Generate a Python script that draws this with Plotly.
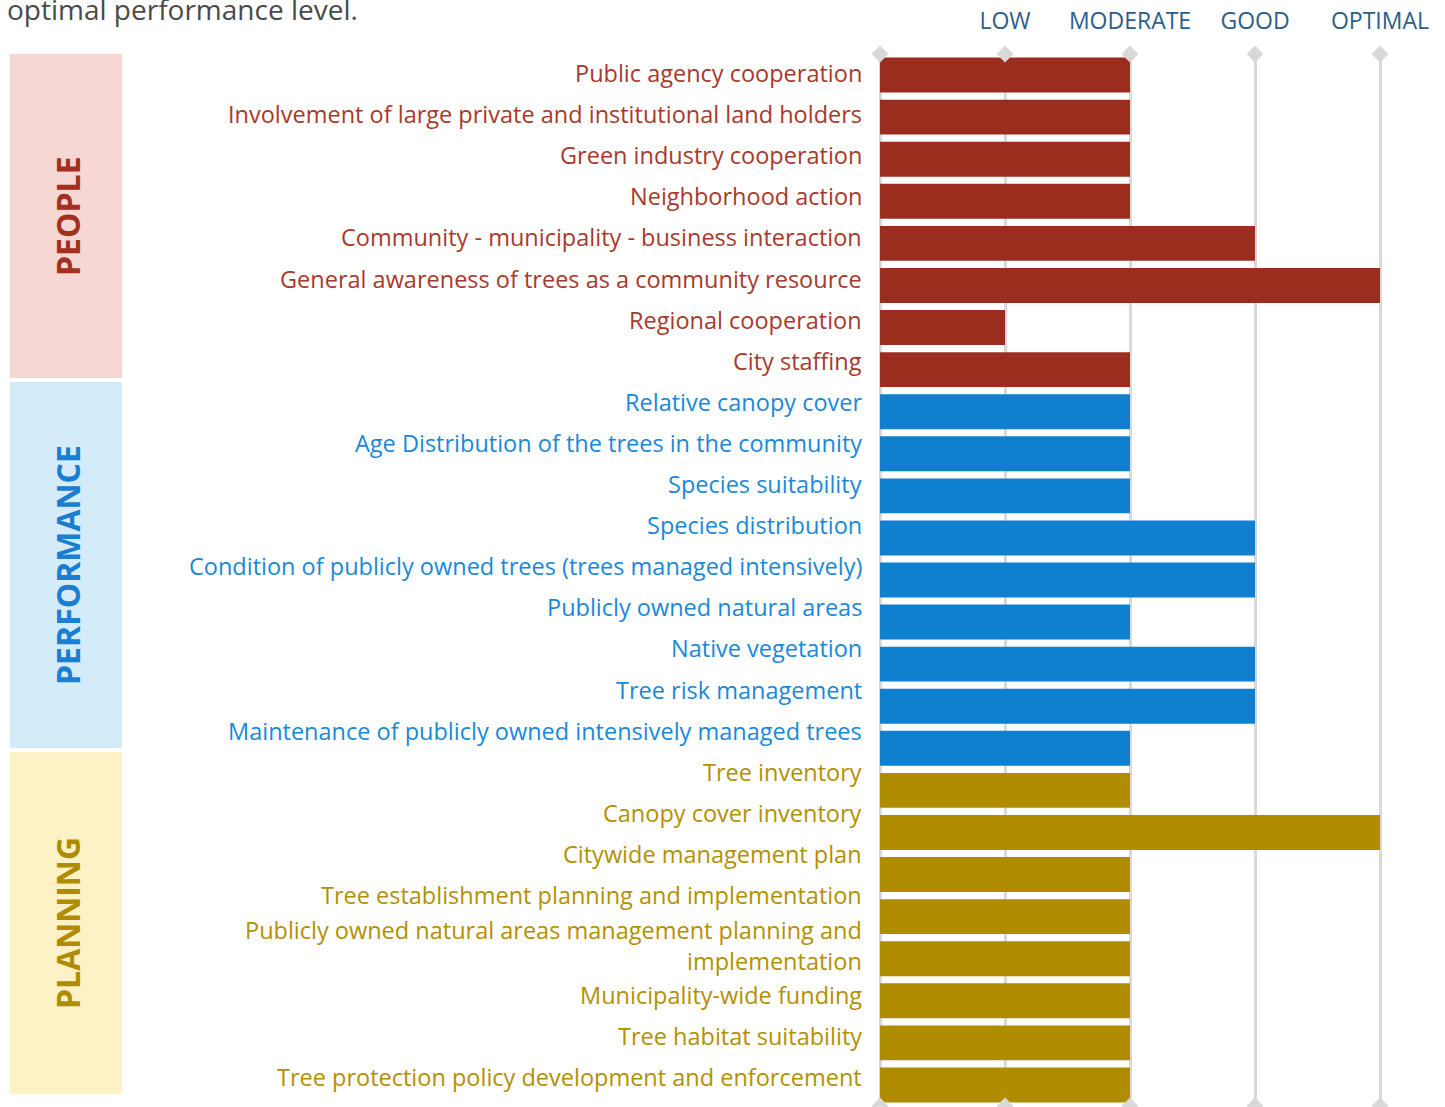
import plotly.graph_objects as go

# ---------------- data ----------------
people = ["Public agency cooperation",
          "Involvement of large private and institutional land holders",
          "Green industry cooperation",
          "Neighborhood action",
          "Community - municipality - business interaction",
          "General awareness of trees as a community resource",
          "Regional cooperation",
          "City staffing"]
people_vals = [2, 2, 2, 2, 3, 4, 1, 2]

performance = ["Relative canopy cover",
               "Age Distribution of the trees in the community",
               "Species suitability",
               "Species distribution",
               "Condition of publicly owned trees (trees managed intensively)",
               "Publicly owned natural areas",
               "Native vegetation",
               "Tree risk management",
               "Maintenance of publicly owned intensively managed trees"]
performance_vals = [2, 2, 2, 3, 3, 2, 3, 3, 2]

planning = ["Tree inventory",
            "Canopy cover inventory",
            "Citywide management plan",
            "Tree establishment planning and implementation",
            "Publicly owned natural areas management planning and<br>implementation",
            "Municipality-wide funding",
            "Tree habitat suitability",
            "Tree protection policy development and enforcement"]
planning_vals = [2, 4, 2, 2, 2, 2, 2, 2]

levels = [0, 1, 2, 3, 4]
level_labels = ["", "LOW", "MODERATE", "GOOD", "OPTIMAL"]

groups = ["PEOPLE", "PERFORMANCE", "PLANNING"]
intro_text = "optimal performance level."

# ---------------- styles ----------------
bar_colors = {"PEOPLE": "#9b2d1f", "PERFORMANCE": "#0f80d0", "PLANNING": "#b08c00"}
text_colors = {"PEOPLE": "#a8392b", "PERFORMANCE": "#1a88d8", "PLANNING": "#b39000"}
band_colors = {"PEOPLE": "#f7d7d3", "PERFORMANCE": "#d4ebfa", "PLANNING": "#fdf2c6"}
group_label_colors = {"PEOPLE": "#a3301f", "PERFORMANCE": "#1a7fd0", "PLANNING": "#b08d00"}
FONT = "Open Sans"

W, H = 1445, 1107
ML, MR, MT, MB = 878, 63, 54, 1
PW = W - ML - MR
PH = H - MT - MB


def px_x(p):
    return (p - ML) / PW


def px_y(p):
    return (H - MB - p) / PH


cats, vals, grp = [], [], []
for g, c, v in [("PEOPLE", people, people_vals),
                ("PERFORMANCE", performance, performance_vals),
                ("PLANNING", planning, planning_vals)]:
    cats += c
    vals += v
    grp += [g] * len(c)

idx = list(range(len(cats)))
n = len(cats)

fig = go.Figure()

# diamond caps on gridlines
fig.add_trace(go.Scatter(
    x=levels * 2,
    y=[-0.5] * len(levels) + [n - 0.5] * len(levels),
    mode="markers",
    marker=dict(symbol="diamond", size=13, color="#d9d9d9"),
    cliponaxis=False, hoverinfo="skip", showlegend=False))

fig.add_trace(go.Bar(
    x=vals, y=idx, orientation="h",
    marker=dict(color=[bar_colors[g] for g in grp], line=dict(width=0)),
    showlegend=False, hovertemplate="%{x}<extra></extra>"))

shapes = []
annotations = []

# side bands with group titles
bands = {"PEOPLE": (54, 378), "PERFORMANCE": (382, 748), "PLANNING": (752, 1094)}
for g in groups:
    y0, y1 = bands[g]
    shapes.append(dict(type="rect", xref="paper", yref="paper",
                       x0=px_x(10), x1=px_x(122), y0=px_y(y1), y1=px_y(y0),
                       fillcolor=band_colors[g], line=dict(width=0), layer="below"))
    annotations.append(dict(text=f"<b>{g}</b>", xref="paper", yref="paper",
                            x=px_x(67), y=px_y((y0 + y1) / 2), showarrow=False,
                            textangle=-90, xanchor="center", yanchor="middle",
                            font=dict(family=FONT, size=32, color=group_label_colors[g])))

# category labels (laid out as a text list, like the original)
step, extra = 41.1, 17.8
y_center = 73.0
prev_h = None
for c, g in zip(cats, grp):
    lines = c.count("<br>") + 1
    h = step + (lines - 1) * extra
    if prev_h is not None:
        y_center += (prev_h + h) / 2
    prev_h = h
    annotations.append(dict(text=c, xref="paper", yref="paper",
                            x=px_x(864), y=px_y(y_center), xanchor="right",
                            yanchor="middle", align="right", showarrow=False,
                            font=dict(family=FONT, size=23.5, color=text_colors[g])))

annotations.append(dict(text=intro_text, xref="paper", yref="paper",
                        x=px_x(5), y=px_y(9), xanchor="left", yanchor="middle",
                        showarrow=False,
                        font=dict(family=FONT, size=28, color="#4a4a4a")))

fig.update_layout(
    width=W, height=H,
    margin=dict(l=ML, r=MR, t=MT, b=MB, autoexpand=False),
    paper_bgcolor="white", plot_bgcolor="white",
    bargap=0.17,
    shapes=shapes, annotations=annotations,
    font=dict(family=FONT),
    xaxis=dict(range=[-0.016, 4.016], side="top", tickmode="array",
               tickvals=levels, ticktext=level_labels,
               showgrid=True, gridcolor="#d9d9d9", gridwidth=3,
               zeroline=False, showline=False, ticks="",
               ticklabelstandoff=19,
               tickfont=dict(family=FONT, size=23, color="#2a5d8c")),
    yaxis=dict(range=[n - 0.5, -0.5], tickmode="array", tickvals=idx,
               showticklabels=False, showgrid=False, zeroline=False,
               showline=False, ticks=""),
)

fig.write_html("out.html", config={"displayModeBar": False},
               post_script="document.body.style.margin='0';")
